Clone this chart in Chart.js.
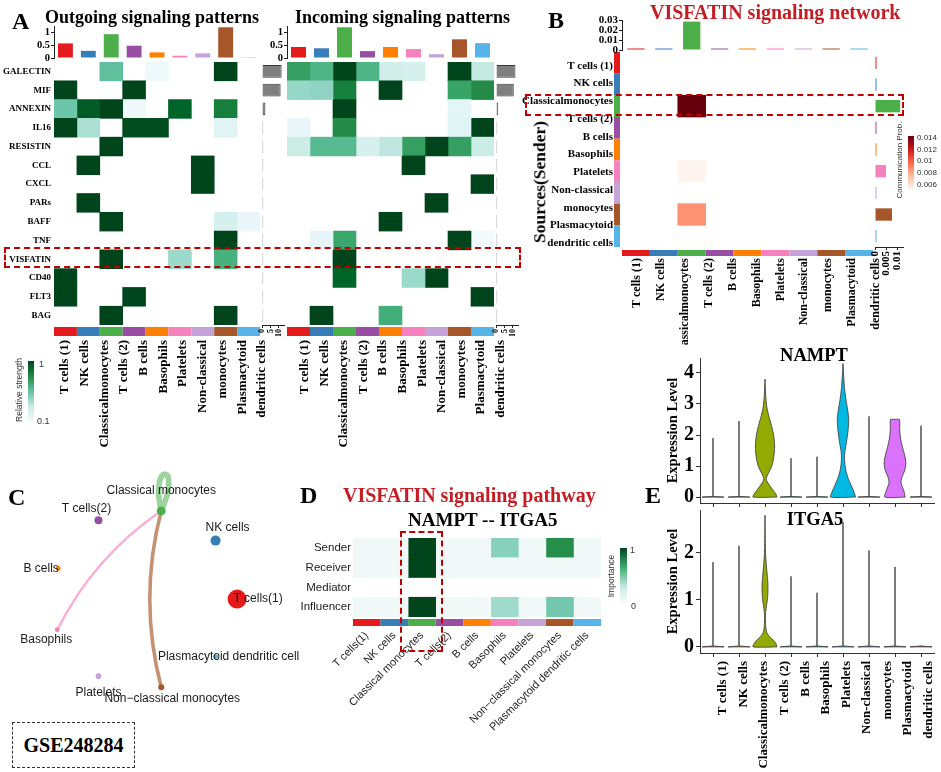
<!DOCTYPE html>
<html>
<head>
<meta charset="utf-8">
<title>VISFATIN signaling</title>
<script src="https://cdn.jsdelivr.net/npm/chart.js@4.4.1/dist/chart.umd.min.js"></script>
<style>
  html, body { margin: 0; padding: 0; background: #fff; }
  #fig { position: relative; width: 941px; height: 772px; overflow: hidden; font-family: "Liberation Serif", serif; }
  #fig canvas { position: absolute; }
  .txt { position: absolute; white-space: nowrap; line-height: 1; font-weight: bold; color: #000; }
  .sans { font-family: "Liberation Sans", Arial, sans-serif; font-weight: normal; color: #333; }
  .box { position: absolute; box-sizing: border-box; }
</style>
</head>
<body>
<div id="fig"></div>
<script>
// ---- Datos ----
const axisLabels = ['T cells (1)', 'NK cells', 'Classicalmonocytes', 'T cells (2)', 'B cells', 'Basophils',
                    'Platelets', 'Non-classical', 'monocytes', 'Plasmacytoid', 'dendritic cells'];
const netLabels = ['T cells(1)', 'NK cells', 'Classical monocytes', 'T cells(2)', 'B cells', 'Basophils',
                   'Platelets', 'Non\u2212classical monocytes', 'Plasmacytoid dendritic cells'];
const pathways = ['GALECTIN', 'MIF', 'ANNEXIN', 'IL16', 'RESISTIN', 'CCL', 'CXCL', 'PARs', 'BAFF', 'TNF',
                  'VISFATIN', 'CD40', 'FLT3', 'BAG'];

// Panel A: fuerza relativa (filas = vias, columnas = tipos celulares)
const outgoing = [
  [0, 0, 0.52, 0, 0.06, 0, 0, 1, 0],
  [1, 0, 0, 1, 0, 0, 0, 0, 0],
  [0.48, 0.93, 1, 0.05, 0, 0.9, 0, 0.8, 0],
  [1, 0.33, 0, 0.97, 0.97, 0, 0, 0.15, 0],
  [0, 0, 1, 0, 0, 0, 0, 0, 0],
  [0, 1, 0, 0, 0, 0, 1, 0, 0],
  [0, 0, 0, 0, 0, 0, 1, 0, 0],
  [0, 1, 0, 0, 0, 0, 0, 0, 0],
  [0, 0, 1, 0, 0, 0, 0, 0.2, 0.1],
  [0, 0, 0, 0, 0, 0, 0, 1, 0],
  [0, 0, 1, 0, 0, 0.37, 0, 0.6, 0],
  [1, 0, 0, 0, 0, 0, 0, 0, 0],
  [1, 0, 0, 1, 0, 0, 0, 0, 0],
  [0, 0, 1, 0, 0, 0, 0, 1, 0]
];
const incoming = [
  [0.68, 0.58, 1, 0.58, 0.22, 0.2, 0, 1, 0.27],
  [0.38, 0.4, 0.8, 0, 1, 0, 0, 0.66, 0.75],
  [0, 0, 1, 0, 0, 0, 0, 0.13, 0],
  [0.1, 0, 0.75, 0, 0, 0, 0, 0.15, 1],
  [0.25, 0.55, 0.55, 0.2, 0.28, 0.68, 1, 0.68, 0.25],
  [0, 0, 0, 0, 0, 1, 0, 0, 0],
  [0, 0, 0, 0, 0, 0, 0, 0, 1],
  [0, 0, 0, 0, 0, 0, 1, 0, 0],
  [0, 0, 0, 0, 1, 0, 0, 0, 0],
  [0, 0.12, 0.65, 0, 0, 0, 0, 1, 0.04],
  [0, 0, 1, 0, 0, 0, 0, 0, 0],
  [0, 0, 0.9, 0, 0, 0.37, 1, 0, 0],
  [0, 0, 0, 0, 0, 0, 0, 0, 1],
  [0, 1, 0, 0, 0.62, 0, 0, 0, 0]
];
const outgoingByCell = [0.57, 0.28, 0.93, 0.48, 0.22, 0.09, 0.18, 1.2, 0.03];
const incomingByCell = [0.43, 0.38, 1.2, 0.27, 0.43, 0.35, 0.15, 0.73, 0.58];
const outgoingByPathway = [11.6, 11, 2, 0.7, 0.7, 0.7, 0.7, 0.7, 0.7, 0.7, 0.7, 0.7, 0.7, 0.7];
const incomingByPathway = [11.5, 10.5, 1.3, 0.7, 0.7, 0.7, 0.7, 0.7, 0.7, 0.7, 0.7, 0.7, 0.7, 0.7];
const cellTicks = [0, 0.5, 1];
const pathwayTicks = [0, 5, 10];

// Panel B: probabilidad de comunicacion (filas = emisor, columnas = receptor)
const commProb = [
  [0, 0, 0, 0, 0, 0, 0, 0, 0],
  [0, 0, 0, 0, 0, 0, 0, 0, 0],
  [0, 0, 0.014, 0, 0, 0, 0, 0, 0],
  [0, 0, 0, 0, 0, 0, 0, 0, 0],
  [0, 0, 0, 0, 0, 0, 0, 0, 0],
  [0, 0, 0.006, 0, 0, 0, 0, 0, 0],
  [0, 0, 0, 0, 0, 0, 0, 0, 0],
  [0, 0, 0.009, 0, 0, 0, 0, 0, 0],
  [0, 0, 0, 0, 0, 0, 0, 0, 0]
];
const receiverSum = [0, 0, 0.029, 0, 0, 0, 0, 0, 0];
const senderSum = [0, 0, 0.0114, 0, 0, 0.005, 0, 0.0077, 0];
const receiverTicks = [0, 0.01, 0.02, 0.03];
const senderTicks = [0, 0.005, 0.01];

// Panel C: red (layout circular)
const nodeX = [0.91, 0.68, 0.10, -0.57, -1.00, -1.01, -0.57, 0.10, 0.68];
const nodeY = [0.00, 0.63, 0.95, 0.85, 0.33, -0.33, -0.83, -0.95, -0.62];
const nodeCount = [90, 25, 20, 16, 6, 6, 8, 9, 6];
const edgeFrom = [5, 7, 2];
const edgeTo = [2, 2, 2];
const edgeWeight = [0.006, 0.009, 0.014];

// Panel D: importancia
const roles = ['Sender', 'Receiver', 'Mediator', 'Influencer'];
const importance = [
  [0, 0, 1, 0, 0, 0.42, 0, 0.74, 0],
  [0, 0, 1, 0, 0, 0, 0, 0, 0],
  [null, null, null, null, null, null, null, null, null],
  [0, 0, 1, 0, 0, 0.36, 0, 0.47, 0]
];

// Panel E: violines, pares [nivel, semiancho]
const namptMax = [1.9, 2.45, 3.8, 1.25, 1.3, 4.3, 2.6, 2.5, 2.3];
const itga5Max = [1.8, 2.15, 2.8, 1.5, 1.15, 2.65, 2.05, 1.7, 0];
const namptShapes = {
  2: [[0, 0.46], [0.1, 0.42], [0.2, 0.33], [0.35, 0.2], [0.5, 0.08], [0.6, 0.045], [0.75, 0.12], [1.0, 0.26],
      [1.3, 0.34], [1.65, 0.37], [2.0, 0.33], [2.3, 0.25], [2.6, 0.15], [2.9, 0.07], [3.3, 0.025], [3.8, 0]],
  5: [[0, 0.48], [0.15, 0.43], [0.35, 0.33], [0.6, 0.2], [0.9, 0.1], [1.2, 0.06], [1.45, 0.07], [1.8, 0.14],
      [2.2, 0.2], [2.5, 0.22], [2.8, 0.18], [3.1, 0.12], [3.5, 0.06], [3.9, 0.025], [4.3, 0]],
  7: [[0, 0.39], [0.2, 0.34], [0.4, 0.25], [0.5, 0.23], [0.65, 0.27], [0.85, 0.37], [1.1, 0.42], [1.35, 0.37],
      [1.6, 0.29], [1.9, 0.21], [2.2, 0.18], [2.5, 0.17], [2.5, 0]]
};
const itga5Shapes = {
  2: [[0, 0.46], [0.07, 0.42], [0.14, 0.32], [0.22, 0.17], [0.3, 0.07], [0.4, 0.035], [0.55, 0.02], [0.7, 0.02],
      [0.85, 0.05], [1.05, 0.1], [1.3, 0.115], [1.5, 0.09], [1.75, 0.05], [2.0, 0.02], [2.4, 0.006], [2.8, 0]]
};
const namptTicks = [0, 1, 2, 3, 4];
const itga5Ticks = [0, 1, 2];

// ---- Estilos ----
const cellColors = ['#E41A1C', '#377EB8', '#4DAF4A', '#984EA3', '#FF7F00', '#F781BF', '#C5A3D8', '#A65628', '#56B4E9'];
const hueColors = ['#F8766D', '#D39200', '#93AA00', '#00BA38', '#00C19F', '#00B9E3', '#619CFF', '#DB72FB', '#FF61C3'];
const BUGN = ['#f7fcfd', '#e5f5f9', '#ccece6', '#99d8c9', '#66c2a4', '#41ae76', '#238b45', '#006d2c', '#00441b'];
const REDS = ['#fff5f0', '#fee0d2', '#fcbba1', '#fc9272', '#fb6a4a', '#ef3b2c', '#cb181d', '#a50f15', '#67000d'];
const RED_TITLE = '#C41E24';

Chart.defaults.font.family = '"Liberation Serif", serif';
Chart.defaults.color = '#000';

const fig = document.getElementById('fig');
const hex = h => [1, 3, 5].map(k => parseInt(h.slice(k, k + 2), 16));
function ramp(pal, t) {
  t = Math.max(0, Math.min(1, t));
  const p = t * (pal.length - 1), i = Math.min(Math.floor(p), pal.length - 2), f = p - i;
  const a = hex(pal[i]), b = hex(pal[i + 1]);
  return 'rgb(' + a.map((v, k) => Math.round(v + (b[k] - v) * f)).join(',') + ')';
}
function alpha(h, a) { return 'rgba(' + hex(h).join(',') + ',' + a + ')'; }

function canvasAt(l, t, w, h) {
  const c = document.createElement('canvas');
  c.width = w; c.height = h;
  c.style.left = l + 'px'; c.style.top = t + 'px';
  c.style.width = w + 'px'; c.style.height = h + 'px';
  fig.appendChild(c);
  return c;
}
function text(str, x, y, size, o = {}) {
  const d = document.createElement('div');
  d.className = 'txt' + (o.sans ? ' sans' : '');
  d.textContent = str;
  d.style.left = x + 'px'; d.style.top = y + 'px'; d.style.fontSize = size + 'px';
  if (o.color) d.style.color = o.color;
  const ax = o.anchor === 'center' ? '-50%' : o.anchor === 'right' ? '-100%' : '0';
  d.style.transform = o.rot ? 'translate(-50%,-50%) rotate(-90deg)' : 'translate(' + ax + ',-50%)';
  fig.appendChild(d);
}
function box(l, t, w, h, css) {
  const d = document.createElement('div');
  d.className = 'box';
  Object.assign(d.style, { left: l + 'px', top: t + 'px', width: w + 'px', height: h + 'px' }, css);
  fig.appendChild(d);
  return d;
}

// fija el tamano de un eje para alinear las areas de los graficos
const noPad = s => { s.paddingLeft = s.paddingRight = s.paddingTop = s.paddingBottom = 0; };
const fitW = w => s => { s.width = w; noPad(s); };
const fitH = h => s => { s.height = h; noPad(s); };
const setTicks = list => s => { s.ticks = list.map(v => ({ value: v })); };
const noGrid = { display: false, drawTicks: false };

// eje inferior de etiquetas: posiciones (en unidades de columna) donde la figura las escribe
function labelAxis(labels, min, max, start, step, font, rot, pad, h, color) {
  return {
    type: 'linear', axis: 'x', position: 'bottom', min, max,
    afterBuildTicks: setTicks(labels.map((l, i) => start + step * i)),
    grid: noGrid, border: { display: false },
    ticks: { autoSkip: false, minRotation: rot, maxRotation: rot, font, color: color || '#000', padding: pad,
             callback: (v, i) => labels[i] },
    afterFit: fitH(h)
  };
}

function base(pad) {
  return {
    responsive: false, animation: false, layout: { padding: pad },
    plugins: { legend: { display: false }, tooltip: { enabled: false } }
  };
}

// franja de colores de tipo celular, pegada al area del grafico
function strip(colors, where, gap, size) {
  return {
    id: 'strip_' + where,
    afterDraw(chart) {
      const ctx = chart.ctx, a = chart.chartArea;
      ctx.save();
      colors.forEach((col, i) => {
        ctx.fillStyle = col;
        if (where === 'bottom') {
          const x = chart.scales.x, x0 = x.getPixelForValue(i), x1 = x.getPixelForValue(i + 1);
          ctx.fillRect(x0, a.bottom + gap, x1 - x0, size);
        } else {
          const y = chart.scales.y, yc = y.getPixelForValue(i);
          const half = Math.abs(y.getPixelForValue(1) - y.getPixelForValue(0)) / 2;
          ctx.fillRect(a.left - gap - size, yc - half, size, half * 2);
        }
      });
      ctx.restore();
    }
  };
}

// heatmap con barras flotantes horizontales (una serie por columna)
function heatmap(el, m, o) {
  const ncol = m[0].length;
  const datasets = [];
  for (let c = 0; c < ncol; c++) {
    datasets.push({
      xAxisID: 'x', yAxisID: 'y',
      data: m.map(r => (r[c] === null || (o.skipZero && r[c] === 0)) ? null : [c, c + 1]),
      backgroundColor: m.map(r => r[c] === null ? 'rgba(0,0,0,0)' : o.color(r[c])),
      borderWidth: 0, borderSkipped: false,
      grouped: false, barPercentage: 1, categoryPercentage: 1
    });
  }
  const start = o.labelStart === undefined ? 0.5 : o.labelStart;
  const step = o.labelStep || 1;
  const scales = {
    x: { type: 'linear', axis: 'x', min: 0, max: ncol, display: false },
    y: {
      type: 'category', axis: 'y', labels: o.rows, offset: true, display: !!o.rowFont,
      grid: noGrid, border: { display: false },
      ticks: { font: o.rowFont, color: o.rowColor || '#000', padding: o.rowPad || 3, autoSkip: false },
      afterFit: fitW(o.rowFont ? o.leftW : 0)
    },
    x2: labelAxis(o.colLabels, 0, ncol, start, step, o.colFont, o.rot, o.colPad, o.bottomH, o.colColor)
  };
  if (o.rowLabels2) {
    scales.y2 = {
      type: 'category', axis: 'y', position: 'left', labels: o.rowLabels2, offset: true,
      grid: noGrid, border: { display: false },
      ticks: { font: o.rowFont2, color: '#000', padding: o.rowPad2, autoSkip: false, labelOffset: o.rowShift || 0 },
      afterFit: fitW(o.leftW)
    };
  }
  const plugins = [strip(cellColors, 'bottom', o.stripGap, o.stripSize)];
  if (o.leftStrip) plugins.push(strip(cellColors, 'left', 2, 6));
  new Chart(el, {
    type: 'bar',
    data: { labels: o.rows, datasets },
    options: Object.assign(base(o.pad), { indexAxis: 'y', scales }),
    plugins
  });
}

// barras verticales encima de un heatmap
function colBars(el, vals, o) {
  new Chart(el, {
    type: 'bar',
    data: { labels: vals.map((v, i) => i), datasets: [{
      data: vals, backgroundColor: cellColors, barPercentage: o.bp, categoryPercentage: 1,
      minBarLength: o.minLen || 0 }] },
    options: Object.assign(base(o.pad), { scales: {
      x: { display: false, offset: true },
      y: {
        min: 0, max: o.max, afterBuildTicks: setTicks(o.ticks),
        ticks: { font: o.font, color: '#000', padding: 1, autoSkip: false, callback: v => String(v) },
        grid: { drawOnChartArea: false, tickLength: 3, color: '#222' },
        border: { display: true, color: '#222' },
        afterFit: fitW(o.leftW)
      } } })
  });
}

// barras horizontales al lado derecho de un heatmap
function rowBars(el, vals, o) {
  new Chart(el, {
    type: 'bar',
    data: { labels: vals.map((v, i) => i), datasets: [{
      data: vals, backgroundColor: o.colors, borderColor: o.border || 'rgba(0,0,0,0)',
      borderWidth: o.borderW || 0, barPercentage: o.bp, categoryPercentage: 1, minBarLength: o.minLen || 0 }] },
    options: Object.assign(base(o.pad), { indexAxis: 'y', scales: {
      y: { display: false, offset: true },
      x: {
        min: 0, max: o.max, afterBuildTicks: setTicks(o.ticks),
        ticks: { font: o.font, color: '#000', padding: 1, autoSkip: false, minRotation: 90, maxRotation: 90,
                 callback: v => String(v) },
        grid: { drawOnChartArea: false, tickLength: 3, color: '#222' },
        border: { display: true, color: '#222' },
        afterFit: fitH(o.bottomH)
      } } })
  });
}

// violines dibujados como poligonos en una escala lineal
function violins(el, maxes, shapes, o) {
  const datasets = maxes.map((mx, i) => {
    const c = i + 1;
    const prof = shapes[i] || [[0, 0.42], [0.02, 0], [mx, 0]];
    const right = prof.map(([lv, hw]) => ({ x: c + hw, y: lv }));
    const left = prof.slice().reverse().map(([lv, hw]) => ({ x: c - hw, y: lv }));
    return {
      data: right.concat(left, [right[0]]), showLine: true, fill: 'shape',
      backgroundColor: hueColors[i], borderColor: '#444', borderWidth: 0.9,
      pointRadius: 0, tension: shapes[i] ? 0.25 : 0
    };
  });
  const n = maxes.length;
  const scales = {
    x: {
      type: 'linear', min: 0.5, max: n + 0.5,
      afterBuildTicks: setTicks(maxes.map((v, i) => i + 1)),
      ticks: { display: false }, grid: { drawOnChartArea: false, tickLength: 4, color: '#333' },
      border: { display: true, color: '#333' }, afterFit: fitH(0)
    },
    y: {
      type: 'linear', min: o.min, max: o.max, afterBuildTicks: setTicks(o.ticks),
      ticks: { font: { size: 20, weight: 'bold' }, color: '#000', padding: 2, autoSkip: false, callback: v => String(v) },
      grid: { drawOnChartArea: false, tickLength: 4, color: '#333' },
      border: { display: true, color: '#333' },
      title: { display: true, text: 'Expression Level', color: '#000', font: { size: 14.5, weight: 'bold' },
               padding: { top: 4, bottom: 0 } },
      afterFit: fitW(39)
    }
  };
  if (o.labels) {
    scales.x2 = labelAxis(o.labels, 0.5, n + 0.5, 1.385, 0.79, { size: 13, weight: 'bold' }, 90, 8, o.bottomH);
  }
  new Chart(el, { type: 'scatter', data: { datasets }, options: Object.assign(base(o.pad), { scales }) });
}

const greens = v => ramp(BUGN, v);

// ================= Panel A =================
heatmap(canvasAt(0, 62, 280, 388), outgoing, {
  rows: pathways, leftW: 54, rowFont: { size: 9, weight: 'bold' }, rowPad: 3,
  colLabels: axisLabels, colFont: { size: 13, weight: 'bold' }, rot: 90, colPad: 15, bottomH: 125,
  labelStart: 0.48, labelStep: 0.86,
  color: greens, skipZero: true, pad: { left: 0, right: 20, top: 0, bottom: 0 }, stripGap: 2, stripSize: 9
});
heatmap(canvasAt(277, 62, 237, 388), incoming, {
  rows: pathways, leftW: 0,
  colLabels: axisLabels, colFont: { size: 13, weight: 'bold' }, rot: 90, colPad: 15, bottomH: 125,
  labelStart: 0.78, labelStep: 0.85,
  color: greens, skipZero: true, pad: { left: 10, right: 20, top: 0, bottom: 0 }, stripGap: 2, stripSize: 9
});
colBars(canvasAt(14, 20, 256, 44), outgoingByCell, {
  leftW: 40, max: 1.25, ticks: cellTicks, bp: 0.65, font: { size: 10.5, weight: 'bold' },
  pad: { left: 0, right: 10, top: 6, bottom: 6 }
});
colBars(canvasAt(257, 20, 247, 44), incomingByCell, {
  leftW: 30, max: 1.25, ticks: cellTicks, bp: 0.65, font: { size: 10.5, weight: 'bold' },
  pad: { left: 0, right: 10, top: 6, bottom: 6 }
});
rowBars(canvasAt(256, 62, 32, 290), outgoingByPathway, {
  colors: '#7f7f7f', border: '#3a3a3a', borderW: 1, bp: 0.68, max: 13, ticks: pathwayTicks,
  font: { size: 8, weight: 'bold' }, bottomH: 27, pad: { left: 6, right: 4, top: 0, bottom: 0 }
});
rowBars(canvasAt(490, 62, 32, 290), incomingByPathway, {
  colors: '#7f7f7f', border: '#3a3a3a', borderW: 1, bp: 0.68, max: 13, ticks: pathwayTicks,
  font: { size: 8, weight: 'bold' }, bottomH: 27, pad: { left: 6, right: 4, top: 0, bottom: 0 }
});

// ================= Panel B =================
heatmap(canvasAt(500, 52, 390, 293), commProb, {
  rows: cellColors.map((c, i) => i), leftW: 122,
  rowLabels2: axisLabels, rowFont2: { size: 11, weight: 'bold' }, rowPad2: 9, rowShift: 5,
  colLabels: axisLabels, colFont: { size: 12, weight: 'bold' }, rot: 90, colPad: 11, bottomH: 98,
  labelStart: 0.54, labelStep: 0.857,
  color: v => ramp(REDS, (v - 0.006) / 0.008), skipZero: true, leftStrip: true,
  pad: { left: 0, right: 17, top: 0, bottom: 0 }, stripGap: 3, stripSize: 6
});
colBars(canvasAt(580, 14, 300, 44), receiverSum, {
  leftW: 42, max: 0.0306, ticks: receiverTicks, bp: 0.62, minLen: 1.5, font: { size: 11, weight: 'bold' },
  pad: { left: 0, right: 7, top: 6, bottom: 8 }
});
rowBars(canvasAt(870, 52, 40, 225), senderSum, {
  colors: cellColors, bp: 0.57, max: 0.0127, ticks: senderTicks, minLen: 1.5,
  font: { size: 11, weight: 'bold' }, bottomH: 30, pad: { left: 5, right: 7, top: 0, bottom: 0 }
});

// ================= Panel C =================
const netLabelShift = [[21, 0], [12, -13], [0, -20], [-12, -12], [-17, 0], [-11, 10], [0, 17], [11, 11], [16, 0]];
const netPlugin = {
  id: 'net',
  beforeDatasetsDraw(chart) {
    const ctx = chart.ctx, xs = chart.scales.x, ys = chart.scales.y;
    ctx.save();
    ctx.lineCap = 'round';
    edgeFrom.forEach((s, k) => {
      const t = edgeTo[k];
      const x0 = xs.getPixelForValue(nodeX[s]), y0 = ys.getPixelForValue(nodeY[s]);
      const x1 = xs.getPixelForValue(nodeX[t]), y1 = ys.getPixelForValue(nodeY[t]);
      ctx.strokeStyle = alpha(cellColors[s], s === t ? 0.55 : 0.65);
      ctx.lineWidth = edgeWeight[k] * 400;
      ctx.beginPath();
      ctx.moveTo(x0, y0);
      if (s === t) {
        ctx.bezierCurveTo(x0 - 12, y0 - 50, x0 + 22, y0 - 48, x0, y0);
      } else {
        const dx = x1 - x0, dy = y1 - y0;
        ctx.quadraticCurveTo((x0 + x1) / 2 + dy * 0.13, (y0 + y1) / 2 - dx * 0.13, x1, y1);
      }
      ctx.stroke();
    });
    ctx.restore();
  },
  afterDatasetsDraw(chart) {
    const ctx = chart.ctx, xs = chart.scales.x, ys = chart.scales.y;
    ctx.save();
    ctx.font = '12px "Liberation Sans", Arial, sans-serif';
    ctx.fillStyle = '#1a1a1a';
    ctx.textAlign = 'center';
    ctx.textBaseline = 'middle';
    netLabels.forEach((lab, i) => {
      ctx.fillText(lab, xs.getPixelForValue(nodeX[i]) + netLabelShift[i][0], ys.getPixelForValue(nodeY[i]) + netLabelShift[i][1]);
    });
    ctx.restore();
  }
};
new Chart(canvasAt(0, 455, 300, 265), {
  type: 'scatter',
  data: { datasets: [{
    data: nodeX.map((x, i) => ({ x, y: nodeY[i] })),
    pointRadius: nodeCount.map(n => Math.sqrt(n)), pointHoverRadius: nodeCount.map(n => Math.sqrt(n)),
    backgroundColor: cellColors, borderWidth: 0 }] },
  options: Object.assign(base(0), { scales: {
    x: { display: false, min: -1.52, max: 1.48 },
    y: { display: false, min: -1.2, max: 1.45 } } }),
  plugins: [netPlugin]
});

// ================= Panel D =================
heatmap(canvasAt(290, 538, 330, 234), importance, {
  rows: roles, leftW: 63, rowFont: { family: '"Liberation Sans", Arial, sans-serif', size: 11.5 }, rowColor: '#222', rowPad: 2,
  colLabels: netLabels, colFont: { family: '"Liberation Sans", Arial, sans-serif', size: 11 }, colColor: '#222',
  rot: 45, colPad: 12, bottomH: 155,
  color: v => v === 0 ? '#f0f8f8' : ramp(BUGN, v), pad: { left: 0, right: 19, top: 0, bottom: 0 },
  stripGap: 2, stripSize: 7
});

// ================= Panel E =================
violins(canvasAt(655, 350, 286, 160), namptMax, namptShapes, {
  min: -0.19, max: 4.48, ticks: namptTicks, pad: { left: 6, right: 7, top: 8, bottom: 7 }
});
violins(canvasAt(655, 505, 286, 267), itga5Max, itga5Shapes, {
  min: -0.13, max: 2.91, ticks: itga5Ticks, labels: axisLabels, bottomH: 119,
  pad: { left: 6, right: 7, top: 5, bottom: 0 }
});

// ================= Textos, leyendas y recuadros =================
text('A', 12, 21, 24);
text('Outgoing signaling patterns', 45, 16.5, 18);
text('Incoming signaling patterns', 295, 16.5, 18);
text('B', 548, 20, 24);
text('VISFATIN signaling network', 650, 11.5, 20, { color: RED_TITLE });
text('Sources(Sender)', 540, 182, 17.5, { rot: true });
text('C', 8, 497, 24);
text('D', 300, 495, 24);
text('VISFATIN signaling pathway', 343, 495, 20, { color: RED_TITLE });
text('NAMPT -- ITGA5', 408, 519, 19);
text('E', 645, 495, 24);
text('NAMPT', 814, 355, 18.5, { anchor: 'center' });
text('ITGA5', 815, 519, 18.5, { anchor: 'center' });

// leyenda A
box(28, 361, 6, 61, { background: 'linear-gradient(to top, #f7fcfd, #ccece6 25%, #66c2a4 50%, #238b45 75%, #00441b)' });
text('1', 39, 364, 9, { sans: true });
text('0.1', 37, 421, 9, { sans: true });
text('Relative strength', 19, 390, 8.5, { sans: true, rot: true });

// leyenda B
box(908, 136, 6, 53, { background: 'linear-gradient(to top, #fff5f0, #fcbba1 25%, #fb6a4a 50%, #cb181d 75%, #67000d)' });
[['0.014', 138], ['0.012', 150], ['0.01', 161], ['0.008', 173], ['0.006', 185]].forEach(([s, y]) => text(s, 917, y, 8, { sans: true }));
text('Communication Prob.', 900, 160, 8, { sans: true, rot: true });

// leyenda D
box(620, 548, 7, 57, { background: 'linear-gradient(to top, #ffffff, #ccece6 30%, #41ae76 65%, #00441b)' });
text('1', 630, 550, 9, { sans: true });
text('0', 631, 606, 9, { sans: true });
text('Importance', 611, 576, 8.5, { sans: true, rot: true });

// recuadros rojos discontinuos
box(4, 247, 517, 21, { border: '2.5px dashed #C00000' });
box(525, 94, 379, 22, { border: '2.5px dashed #C00000' });
box(400, 531, 43, 121, { border: '2.5px dashed #C00000' });

// recuadro GSE
box(12, 722, 123, 46, { border: '1.5px dashed #333' });
text('GSE248284', 73.5, 745, 20, { anchor: 'center' });
</script>
</body>
</html>
